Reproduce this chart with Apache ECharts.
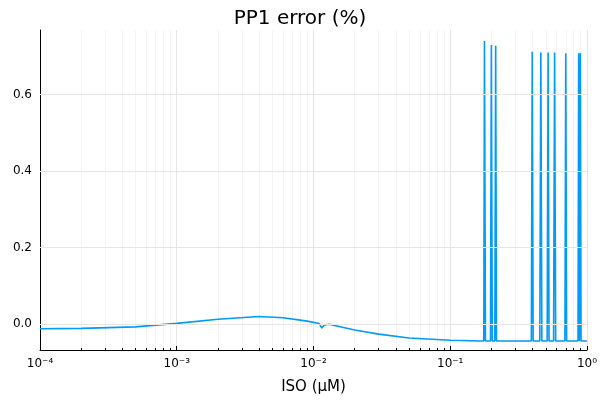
<!DOCTYPE html>
<html><head><meta charset="utf-8">
<script src="https://cdn.jsdelivr.net/npm/echarts@6/dist/echarts.min.js"></script>
<style>html,body{margin:0;padding:0;background:#fff}#c{width:600px;height:400px}</style>
</head><body><div id="c"></div>
<script>
const title = 'PP1 error (%)';
const xLabel = 'ISO (μM)';
const xs = [1e-4,2e-4,5e-4,1e-3,2e-3,4e-3,6e-3,9e-3,0.011,0.0115,0.012,0.013,0.02,0.03,0.05,0.1,0.17,
  0.176,0.178,0.181,0.197,0.2,0.203,0.212,0.215,0.218,
  0.392,0.398,0.404,0.452,0.46,0.468,0.512,0.52,0.528,0.57,0.58,0.59,0.69,0.70,0.71,
  0.86,0.87,0.88,0.885,0.895,0.905,1];
const ys = [-0.012,-0.011,-0.007,0.002,0.013,0.02,0.017,0.008,0.002,-0.01,-0.002,0.0,-0.015,-0.026,-0.036,-0.042,-0.044,
  -0.044,0.74,-0.044,-0.044,0.73,-0.044,-0.044,0.728,-0.044,
  -0.044,0.712,-0.044,-0.044,0.71,-0.044,-0.044,0.71,-0.044,-0.044,0.71,-0.044,-0.044,0.708,-0.044,
  -0.044,0.708,-0.044,-0.044,0.708,-0.044,-0.044];
const yTicks = [0,0.2,0.4,0.6];
const sup = {'-':'⁻','0':'⁰','1':'¹','2':'²','3':'³','4':'⁴'};
const chart = echarts.init(document.getElementById('c'));
const grid = {show:false};
chart.setOption({
  animation:false,
  title:{text:title,left:'center',top:4,textStyle:{fontFamily:'DejaVu Sans',fontSize:20,fontWeight:'normal',color:'#000'}},
  grid:{left:40,right:10,top:30,bottom:48},
  xAxis:{type:'log',min:1e-4,max:1,logBase:10,name:xLabel,nameLocation:'middle',nameGap:30,
    nameTextStyle:{fontFamily:'DejaVu Sans',fontSize:15,color:'#000'},
    axisLine:{onZero:false,lineStyle:{color:'#000'}},
    axisTick:{inside:true,length:4,lineStyle:{color:'#000'}},
    minorTick:{show:true,splitNumber:9,length:2,lineStyle:{color:'#000'}},
    splitLine:{show:true,lineStyle:{color:'#e6e6e6'}},
    minorSplitLine:{show:true,lineStyle:{color:'#f4f4f4'}},
    axisLabel:{fontFamily:'DejaVu Sans',fontSize:12,color:'#000',
      formatter:v=>'10'+String(Math.round(Math.log10(v))).split('').map(c=>sup[c]).join('')}},
  yAxis:{type:'value',min:-0.0675,max:0.769,
    axisLine:{show:true,lineStyle:{color:'#000'}},
    axisTick:{show:true,inside:true,length:4,customValues:yTicks,lineStyle:{color:'#000'}},
    minorTick:{show:false},
    splitLine:{show:false},
    axisLabel:{customValues:yTicks,fontFamily:'DejaVu Sans',fontSize:12,color:'#000',formatter:v=>v.toFixed(1)}},
  series:[{type:'line',data:xs.map((x,i)=>[x,ys[i]]),showSymbol:false,lineStyle:{color:'#009af9',width:1.6}},
    {type:'line',data:[],markLine:{silent:true,symbol:'none',label:{show:false},
      lineStyle:{color:'#e6e6e6',type:'solid',width:1},data:yTicks.map(v=>({yAxis:v}))}}]
});
</script></body></html>
